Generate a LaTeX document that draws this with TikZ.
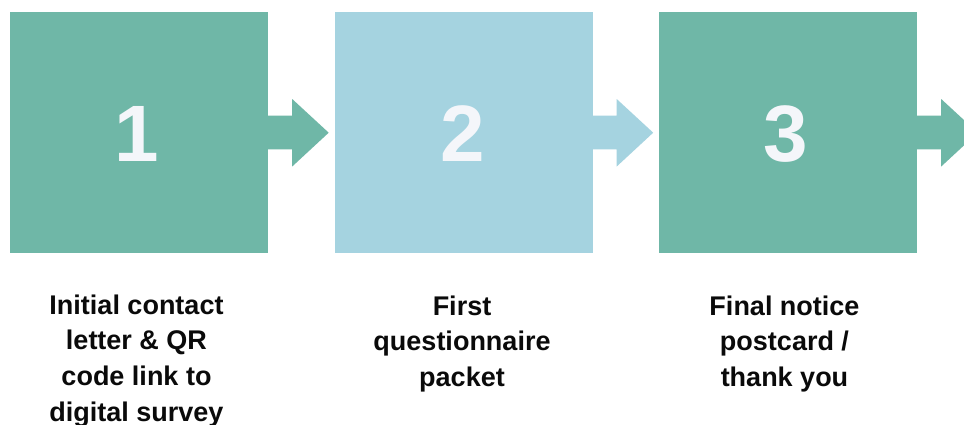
\documentclass[tikz,border=0pt]{standalone}
\usepackage{fontspec}
\setmainfont{Liberation Sans}
\usetikzlibrary{calc}
\definecolor{tealbox}{RGB}{111,183,167}
\definecolor{bluebox}{RGB}{165,211,224}
\definecolor{digitcol}{RGB}{244,246,250}
\definecolor{textcol}{RGB}{10,10,10}
\tikzset{
  stepbox/.style={rectangle, draw=none, fill=#1, minimum width=258pt, minimum height=241pt, inner sep=0pt},
  digitlabel/.style={anchor=base, inner sep=0pt, text=digitcol, font=\fontsize{80}{80}\selectfont\bfseries},
  caption/.style={anchor=north, inner sep=0pt, align=center, text=textcol, font=\fontsize{27}{35.7}\selectfont\bfseries},
}
\newcommand{\blockarrow}[2]{%
  \fill[#2] ($(#1.east)+(-1,-16.8)$) -- ($(#1.east)+(24,-16.8)$) -- ($(#1.east)+(24,-33.5)$)
    -- ($(#1.east)+(60.5,0.2)$) -- ($(#1.east)+(24,34)$) -- ($(#1.east)+(24,16.8)$)
    -- ($(#1.east)+(-1,16.8)$) -- cycle;}
\begin{document}
\begin{tikzpicture}[x=1pt,y=-1pt]
\useasboundingbox (0,0) rectangle (964,424);
\clip (0,0) rectangle (964,424);
\fill[white] (0,0) rectangle (964,424);
\node[stepbox=tealbox] (b1) at (139,132.5) {};
\node[stepbox=bluebox] (b2) at (463.5,132.5) {};
\node[stepbox=tealbox] (b3) at (788,132.5) {};
\blockarrow{b1}{tealbox}
\blockarrow{b2}{bluebox}
\blockarrow{b3}{tealbox}
\node[digitlabel] (d1) at ($(b1.center)+(-2,29)$) {1};
\node[digitlabel] (d2) at ($(b2.center)+(-1,29)$) {2};
\node[digitlabel] (d3) at ($(b3.center)+(-2,29)$) {3};
\node[caption] (t1) at (136.5,294.5) {Initial contact\\letter \& QR\\code link to\\digital survey};
\node[caption] (t2) at (462,295.5) {First\\questionnaire\\packet};
\node[caption] (t3) at (784.5,295.5) {Final notice\\postcard /\\thank you};
\end{tikzpicture}
\end{document}
